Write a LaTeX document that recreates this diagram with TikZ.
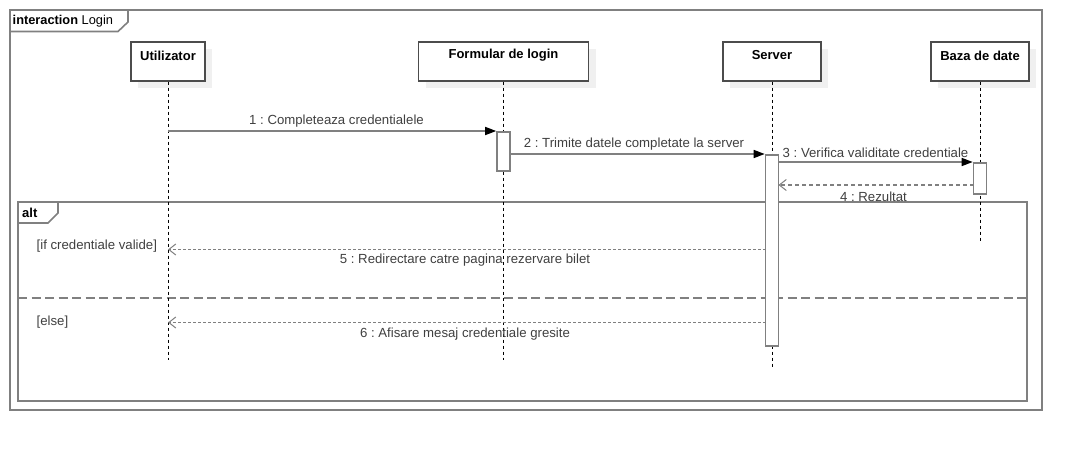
\documentclass[tikz,border=0pt]{standalone}
\usepackage{fontspec}
\setmainfont{Liberation Sans}
\usetikzlibrary{arrows.meta,shadows}
\definecolor{framegray}{HTML}{808080}
\definecolor{labelc}{HTML}{404040}
\definecolor{shadowc}{HTML}{F0F0F0}
\frenchspacing
\begin{document}
\begin{tikzpicture}[x=1pt,y=-1pt,
  frameline/.style={draw=framegray, line width=1.6pt},
  headbox/.style={draw=black!70, fill=white, line width=1.3pt, minimum height=39pt, inner sep=0pt,
    drop shadow={shadow xshift=7pt, shadow yshift=-7pt, fill=shadowc, opacity=1}},
  headtext/.style={font=\fontsize{13}{15}\selectfont\bfseries, text=black, inner sep=0pt},
  lifeline/.style={draw=black, line width=1pt, dash pattern=on 3pt off 3pt},
  actbox/.style={draw=framegray, fill=white, line width=1.6pt, minimum width=13pt, inner sep=0pt, anchor=north},
  msg/.style={draw=framegray, line width=1.6pt, -{Triangle[length=11pt,width=8pt,fill=black,color=black]}},
  ret/.style={draw=framegray, line width=1.4pt, dash pattern=on 4pt off 3pt, -{Straight Barb[length=7pt,width=11pt,line width=1pt]}},
  retdot/.style={draw=framegray, line width=1.5pt, dash pattern=on 2.5pt off 2.5pt, -{Straight Barb[length=7pt,width=11pt,line width=1pt]}},
  mlabel/.style={font=\fontsize{13.2}{15}\selectfont, text=labelc, inner sep=0pt},
  guard/.style={font=\fontsize{13.2}{15}\selectfont, text=labelc, inner sep=0pt, anchor=west},
  sepline/.style={draw=framegray, line width=2pt, dash pattern=on 9pt off 4.5pt}
]
\useasboundingbox[fill=white] (0,0) rectangle (1082,450);

% outer interaction frame
\draw[frameline] (10,10) rectangle (1042,410);
\draw[frameline] (10,31.5) -- (118,31.5) -- (128,22) -- (128,10);
\node[anchor=west, inner sep=0pt, font=\fontsize{12.8}{15}\selectfont, text=black] (title) at (12.5,21) {\textbf{interaction} Login};

% alt combined fragment
\draw[frameline] (18,202) rectangle (1027,401);
\draw[frameline] (18,223) -- (48,223) -- (58,213) -- (58,202);
\node[anchor=west, inner sep=0pt, font=\fontsize{13}{15}\selectfont\bfseries, text=black] (altlbl) at (22,212.5) {alt};
\draw[sepline] (18,298) -- (1027,298);
\node[guard] (g1) at (36.5,246.5) {[if credentiale valide]};
\node[guard] (g2) at (36.5,322.5) {[else]};

% lifeline heads
\node[headbox, minimum width=74pt] (u) at (168,61.5) {};
\node[headtext] (ut) at (168,55.5) {Utilizator};
\node[headbox, minimum width=170pt] (f) at (503.5,61.5) {};
\node[headtext] (ft) at (503.5,55.5) {Formular de login};
\node[headbox, minimum width=98pt] (s) at (772,61.5) {};
\node[headtext] (st) at (772,55.5) {Server};
\node[headbox, minimum width=98pt] (b) at (980,61.5) {};
\node[headtext] (bt) at (980,55.5) {Baza de date};

% lifelines
\coordinate (uend) at (168,360);
\coordinate (fend) at (503.5,360);
\coordinate (send) at (772,367);
\coordinate (bend) at (980,241);
\draw[lifeline] (u.south) -- (uend);
\draw[lifeline] (f.south) -- (fend);
\draw[lifeline] (s.south) -- (send);
\draw[lifeline] (b.south) -- (bend);

% activations
\node[actbox, minimum height=39pt] (fa) at (503.5,131) {};
\node[actbox, minimum height=191pt] (sa) at (772,154) {};
\node[actbox, minimum height=31pt] (ba) at (980,162) {};

% messages
\coordinate (m1s) at (168,131);
\draw[msg] (m1s) -- (fa.north west);
\node[mlabel] (l1) at (336.5,121.5) {1 : Completeaza credentialele};

\draw[msg] (fa.east |- sa.north) -- (sa.north west);
\node[mlabel] (l2) at (634,144) {2 : Trimite datele completate la server};

\draw[msg] (sa.east |- ba.north) -- (ba.north west);
\node[mlabel] (l3) at (875.5,152.5) {3 : Verifica validitate credentiale};

\coordinate (m4s) at (973.5,185);
\coordinate (m4e) at (778.5,185);
\draw[ret] (m4s) -- (m4e);
\node[mlabel] (l4) at (873.5,197) {4 : Rezultat};

\coordinate (m5s) at (765.5,249.5);
\coordinate (m5e) at (168,249.5);
\draw[retdot] (m5s) -- (m5e);
\node[mlabel] (l5) at (465,260.5) {5 : Redirectare catre pagina rezervare bilet};

\coordinate (m6s) at (765.5,322.5);
\coordinate (m6e) at (168,322.5);
\draw[retdot] (m6s) -- (m6e);
\node[mlabel] (l6) at (465,334) {6 : Afisare mesaj credentiale gresite};
\end{tikzpicture}
\end{document}
